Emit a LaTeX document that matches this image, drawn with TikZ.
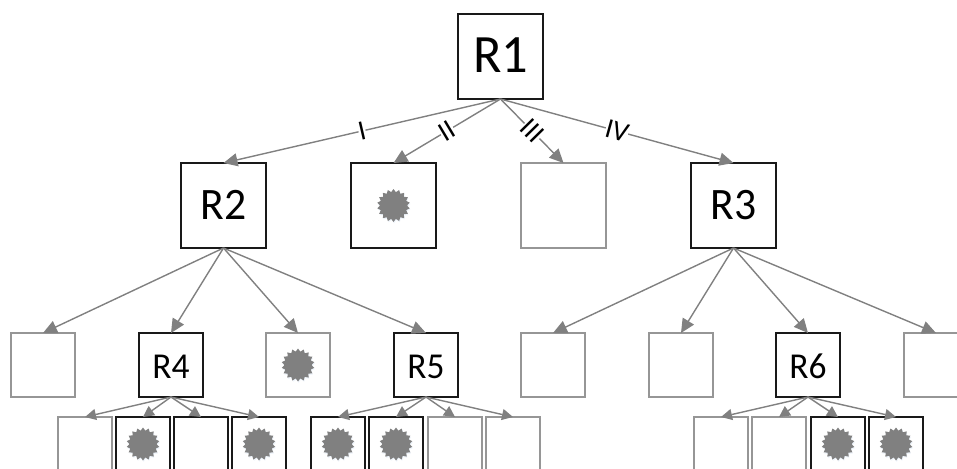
\documentclass[tikz,border=0pt]{standalone}
\usepackage{fontspec}
\setmainfont{Carlito}
\newfontfamily\tallfont[FakeStretch=0.97]{Carlito}
\usetikzlibrary{arrows.meta,shapes.geometric,shadows}
\definecolor{lineGray}{RGB}{128,128,128}
\definecolor{boxGray}{RGB}{150,150,150}
\definecolor{boxDark}{RGB}{25,25,25}
\definecolor{glow}{RGB}{238,244,251}
\tikzset{
  x=1pt,y=-1pt,
  box/.style={rectangle,fill=white,inner sep=0pt,outer sep=0pt,
    general shadow={fill=glow,shadow xshift=0.6pt,shadow yshift=-1.4pt}},
  on/.style={box,draw=boxDark,line width=1.7pt},
  off/.style={box,draw=boxGray,line width=1.6pt},
  big/.style={minimum size=85pt},
  mid/.style={minimum size=64pt},
  small/.style={minimum size=54pt},
  titleA/.style={font=\tallfont\fontsize{54}{54}\selectfont,text height=32.8pt,text depth=0pt},
  titleB/.style={font=\tallfont\fontsize{45}{45}\selectfont,text height=27.4pt,text depth=0pt},
  titleC/.style={font=\tallfont\fontsize{36.5}{36.5}\selectfont,text height=27.5pt,text depth=0pt},
  burst/.style={star,star points=18,star point ratio=1.22,minimum size=33pt,inner sep=0pt,
    fill=lineGray,
    general shadow={fill=glow,shadow xshift=0.6pt,shadow yshift=-1.2pt}},
  link/.style={draw=lineGray,line width=1.4pt,-{Triangle[length=14pt,width=13pt]}},
  linklow/.style={link,-{Triangle[length=11pt,width=11pt]}},
  tick/.style={midway,sloped,fill=white,inner sep=0pt,font=\fontsize{28}{28}\selectfont,text=black},
}
\begin{document}
\begin{tikzpicture}
\useasboundingbox (0,0) rectangle (957,468);
\clip (0,0) rectangle (957,468);
% level 1
\node[on,big,titleA] (r1) at (500.5,56.5) {R1};
% level 2
\node[on,big,titleB] (r2) at (223.5,205.5) {R2};
\node[on,big] (a2) at (393.5,205.5) {};
\node[off,big] (a3) at (563.5,205.5) {};
\node[on,big,titleB] (r3) at (733.5,205.5) {R3};
% level 3
\node[off,mid] (b1) at (43,365) {};
\node[on,mid,titleC] (r4) at (171,365) {R4};
\node[off,mid] (b3) at (298,365) {};
\node[on,mid,titleC] (r5) at (426,365) {R5};
\node[off,mid] (c1) at (553,365) {};
\node[off,mid] (c2) at (681,365) {};
\node[on,mid,titleC] (r6) at (808,365) {R6};
\node[off,mid] (c4) at (936,365) {};
% level 4
\node[off,small] (d1) at (85,444) {};
\node[on,small] (d2) at (143,444) {};
\node[on,small] (d3) at (201,444) {};
\node[on,small] (d4) at (259,444) {};
\node[on,small] (e1) at (338,444) {};
\node[on,small] (e2) at (396,444) {};
\node[off,small] (e3) at (455,444) {};
\node[off,small] (e4) at (513,444) {};
\node[off,small] (f1) at (721,444) {};
\node[off,small] (f2) at (779,444) {};
\node[on,small] (f3) at (838,444) {};
\node[on,small] (f4) at (896,444) {};
% bursts
\node[burst] (s1) at (a2.center) {};
\node[burst] (s2) at (b3.center) {};
\node[burst] (s3) at (d2.center) {};
\node[burst] (s4) at (d4.center) {};
\node[burst] (s5) at (e1.center) {};
\node[burst] (s6) at (e2.center) {};
\node[burst] (s7) at (f3.center) {};
\node[burst] (s8) at (f4.center) {};
% connectors
\draw[link] (r1.south) -- node[tick] {I} (r2.north);
\draw[link] (r1.south) -- node[tick] {II} (a2.north);
\draw[link] (r1.south) -- node[tick] {III} (a3.north);
\draw[link] (r1.south) -- node[tick] {IV} (r3.north);
\draw[link] (r2.south) -- (b1.north);
\draw[link] (r2.south) -- (r4.north);
\draw[link] (r2.south) -- (b3.north);
\draw[link] (r2.south) -- (r5.north);
\draw[link] (r3.south) -- (c1.north);
\draw[link] (r3.south) -- (c2.north);
\draw[link] (r3.south) -- (r6.north);
\draw[link] (r3.south) -- (c4.north);
\draw[linklow] (r4.south) -- (d1.north);
\draw[linklow] (r4.south) -- (d2.north);
\draw[linklow] (r4.south) -- (d3.north);
\draw[linklow] (r4.south) -- (d4.north);
\draw[linklow] (r5.south) -- (e1.north);
\draw[linklow] (r5.south) -- (e2.north);
\draw[linklow] (r5.south) -- (e3.north);
\draw[linklow] (r5.south) -- (e4.north);
\draw[linklow] (r6.south) -- (f1.north);
\draw[linklow] (r6.south) -- (f2.north);
\draw[linklow] (r6.south) -- (f3.north);
\draw[linklow] (r6.south) -- (f4.north);
\end{tikzpicture}
\end{document}
